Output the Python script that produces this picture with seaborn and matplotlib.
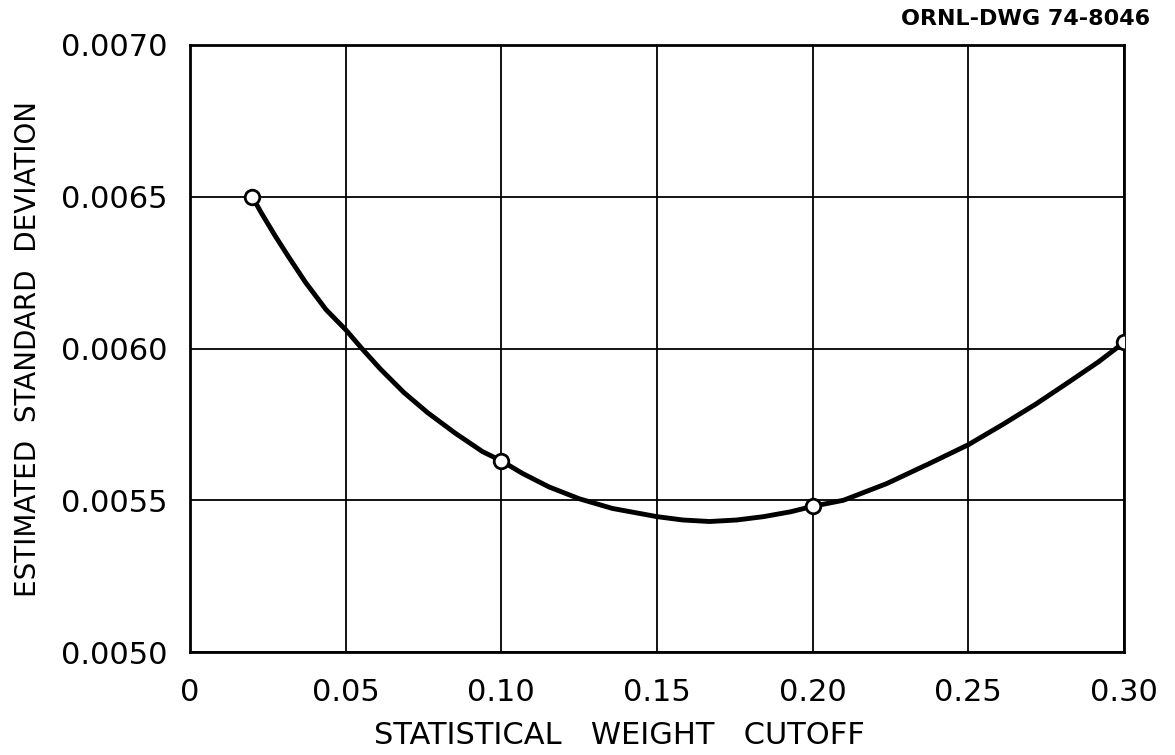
import numpy as np
import pandas as pd
import seaborn as sns
import matplotlib.pyplot as plt

# measured points (open circles)
cutoff = [0.02, 0.10, 0.20, 0.30]
std_dev = [0.00650, 0.00563, 0.00548, 0.00602]

# hand-drawn smooth curve
curve_x = [0.0200, 0.0229, 0.0273, 0.0316, 0.0371, 0.0437, 0.0500, 0.0552,
           0.0611, 0.0687, 0.0764, 0.0852, 0.0940, 0.1000, 0.1067, 0.1153,
           0.1250, 0.1357, 0.1500, 0.1583, 0.1669, 0.1756, 0.1842, 0.1929,
           0.2000, 0.2099, 0.2238, 0.2377, 0.2500, 0.2611, 0.2717, 0.2822,
           0.2918, 0.3000]
curve_y = [0.006500, 0.006447, 0.006372, 0.006303, 0.006218, 0.006128,
           0.006062, 0.006000, 0.005933, 0.005855, 0.005788, 0.005721,
           0.005660, 0.005630, 0.005589, 0.005544, 0.005505, 0.005473,
           0.005446, 0.005435, 0.005430, 0.005435, 0.005446, 0.005462,
           0.005480, 0.005500, 0.005555, 0.005622, 0.005683, 0.005750,
           0.005817, 0.005889, 0.005956, 0.006020]

x_ticks = [0, 0.05, 0.10, 0.15, 0.20, 0.25, 0.30]
x_labels = ["0", "0.05", "0.10", "0.15", "0.20", "0.25", "0.30"]
y_ticks = [0.0050, 0.0055, 0.0060, 0.0065, 0.0070]
y_labels = ["0.0050", "0.0055", "0.0060", "0.0065", "0.0070"]

pts = pd.DataFrame({"cutoff": cutoff, "sd": std_dev})
curve = pd.DataFrame({"cutoff": curve_x, "sd": curve_y})

sns.set_style("white")
plt.rcParams['font.family'] = ['DejaVu Sans']
plt.rcParams['text.color'] = 'black'
plt.rcParams['axes.labelcolor'] = 'black'

fig = plt.figure(figsize=(11.75, 7.55), dpi=100)
ax = fig.add_axes([0.1617, 0.1364, 0.9566 - 0.1617, 0.9404 - 0.1364])

sns.lineplot(ax=ax, data=curve, x="cutoff", y="sd", color="black", linewidth=3.5,
             sort=False, zorder=3)
sns.scatterplot(ax=ax, data=pts, x="cutoff", y="sd", s=110, facecolor="white",
                edgecolor="black", linewidth=2, zorder=4)

ax.set_xlim(0, 0.30)
ax.set_ylim(0.0050, 0.0070)
ax.set_xticks(x_ticks)
ax.set_xticklabels(x_labels)
ax.set_yticks(y_ticks)
ax.set_yticklabels(y_labels)
ax.grid(True, color="black", linewidth=1.3)
ax.set_axisbelow(True)
for s in ax.spines.values():
    s.set_color("black")
    s.set_linewidth(2)
ax.tick_params(length=0, labelsize=22, colors="black")
ax.tick_params(axis="x", pad=19)
ax.tick_params(axis="y", pad=16)

ax.set_xlabel("STATISTICAL   WEIGHT   CUTOFF", fontsize=22)
ax.xaxis.set_label_coords(0.46, -0.113)
ax.set_ylabel("ESTIMATED  STANDARD  DEVIATION", fontsize=20, labelpad=14)

fig.text(0.979, 0.975, "ORNL-DWG 74-8046", ha="right", va="center",
         fontsize=16, fontweight="bold")

fig.savefig("out.png", dpi=100, facecolor="white")
